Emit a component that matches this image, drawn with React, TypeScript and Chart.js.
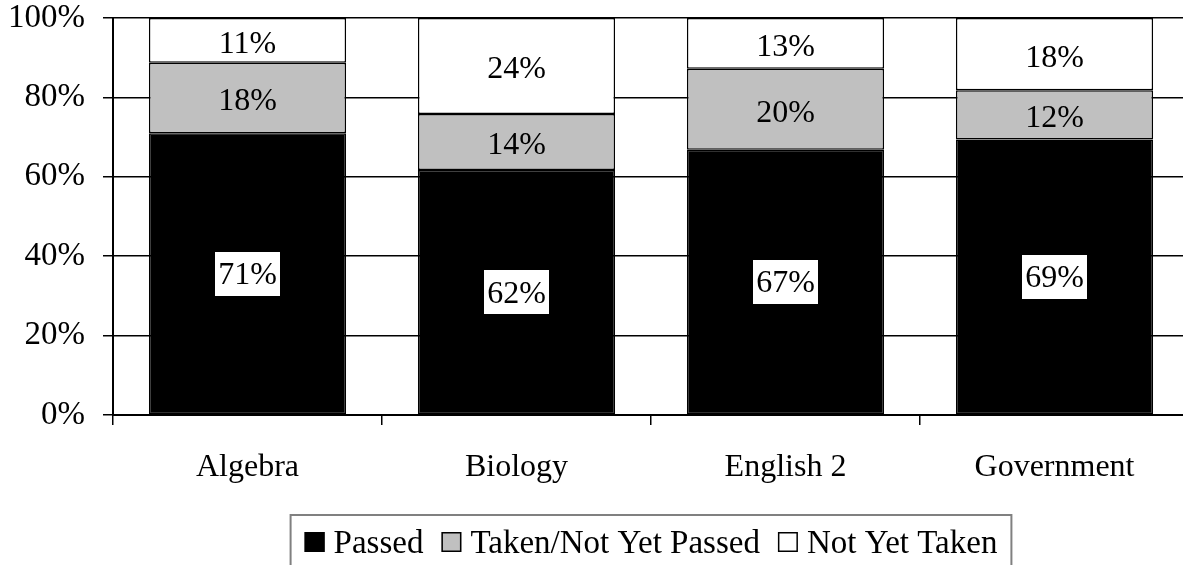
import React, { useEffect, useRef } from "react";
import { Chart, registerables } from "chart.js";

Chart.register(...registerables);

const categories = ["Algebra", "Biology", "English 2", "Government"];
const passed = [71.0, 61.7, 66.8, 69.4];
const takenNotPassed = [17.7, 14.1, 20.4, 12.4];
const notYetTaken = [11.3, 24.2, 12.8, 18.2];
const seriesNames = ["Passed", "Taken/Not Yet Passed", "Not Yet Taken"];
const yTicks = [0, 20, 40, 60, 80, 100];

const FONT = "'Liberation Serif', 'Times New Roman', serif";
const FS = 32;
const YFS = 33;
const LFS = 33;
const W = 1200;
const H = 600;
const XH = 90;

const labelPlugin = {
  id: "segLabels",
  afterDatasetsDraw(chart: any) {
    const ctx = chart.ctx;
    ctx.save();
    ctx.font = `${FS}px ${FONT}`;
    ctx.textAlign = "center";
    ctx.textBaseline = "middle";
    chart.data.datasets.forEach((ds: any, di: number) => {
      const meta = chart.getDatasetMeta(di);
      meta.data.forEach((el: any, i: number) => {
        const v = ds.data[i];
        const txt = Math.round(v) + "%";
        const cx = el.x;
        const cy = (el.y + el.base) / 2;
        if (di === 0) {
          const tw = ctx.measureText(txt).width;
          ctx.fillStyle = "#ffffff";
          ctx.fillRect(Math.round(cx - tw / 2 - 3), Math.round(cy - 22), Math.round(tw + 6), 44);
        }
        ctx.fillStyle = "#000000";
        ctx.fillText(txt, cx, cy + (di === 0 ? 2 : 4));
      });
    });
    ctx.restore();
  },
};

const legendPlugin = {
  id: "boxLegend",
  afterDraw(chart: any) {
    const ctx = chart.ctx;
    const area = chart.chartArea;
    ctx.save();
    ctx.font = `${LFS}px ${FONT}`;
    const sq = 20;
    const gapSq = 9;
    const gapItem = 18;
    const pad = 14;
    const items = chart.data.datasets.map((ds: any) => ({
      text: ds.label,
      fill: ds.backgroundColor,
      w: ctx.measureText(ds.label).width,
    }));
    let total = 0;
    items.forEach((it: any, i: number) => {
      total += sq + gapSq + it.w + (i < items.length - 1 ? gapItem : 0);
    });
    const center = (area.left + area.right) / 2;
    const left = center - total / 2;
    const boxTop = 515;
    ctx.strokeStyle = "#808080";
    ctx.lineWidth = 2;
    ctx.strokeRect(left - pad, boxTop, total + pad * 2, 80);
    let x = left;
    items.forEach((it: any) => {
      ctx.fillStyle = it.fill;
      ctx.fillRect(x, 532, sq, sq);
      ctx.strokeStyle = "#000000";
      ctx.lineWidth = 1.5;
      ctx.strokeRect(x + 0.75, 532.75, sq - 1.5, sq - 1.5);
      x += sq + gapSq;
      ctx.fillStyle = "#000000";
      ctx.textAlign = "left";
      ctx.textBaseline = "alphabetic";
      ctx.fillText(it.text, x, 553);
      x += it.w + gapItem;
    });
    ctx.restore();
  },
};

export default function App() {
  const ref = useRef<HTMLCanvasElement | null>(null);
  useEffect(() => {
    if (!ref.current) return;
    const common = {
      borderColor: "#000000",
      borderWidth: 1.5,
      borderSkipped: false,
      categoryPercentage: 1,
      barPercentage: 0.733,
    };
    const chart = new Chart(ref.current, {
      type: "bar",
      data: {
        labels: categories,
        datasets: [
          { label: seriesNames[0], data: passed, backgroundColor: "#000000", ...common },
          { label: seriesNames[1], data: takenNotPassed, backgroundColor: "#c0c0c0", ...common },
          { label: seriesNames[2], data: notYetTaken, backgroundColor: "#ffffff", ...common },
        ],
      },
      options: {
        animation: false,
        responsive: false,
        maintainAspectRatio: false,
        layout: { padding: { left: 0, right: W - 1189, top: 18, bottom: H - 415 - XH } },
        plugins: {
          legend: { display: false },
          tooltip: { enabled: false },
        },
        scales: {
          x: {
            stacked: true,
            offset: true,
            grid: {
              display: true,
              offset: true,
              drawOnChartArea: false,
              drawTicks: true,
              tickLength: 10,
              color: "#000000",
              lineWidth: 1.5,
            },
            border: { display: true, color: "#000000", width: 2 },
            ticks: {
              color: "#000000",
              font: { family: FONT, size: FS, lineHeight: 1 },
              padding: 27,
              maxRotation: 0,
              autoSkip: false,
            },
            afterFit(scale: any) {
              scale.height = XH;
              scale.paddingLeft = 0;
              scale.paddingRight = 0;
            },
          },
          y: {
            stacked: true,
            min: 0,
            max: 100,
            afterBuildTicks(scale: any) {
              scale.ticks = yTicks.map((v) => ({ value: v }));
            },
            grid: {
              color: "#000000",
              lineWidth: 1.5,
              drawTicks: true,
              tickLength: 10,
            },
            border: { display: true, color: "#000000", width: 2 },
            ticks: {
              color: "#000000",
              font: { family: FONT, size: YFS, lineHeight: 1 },
              padding: 18,
              callback: (v: any) => v + "%",
            },
            afterFit(scale: any) {
              scale.width = 113;
              scale.paddingTop = 0;
              scale.paddingBottom = 0;
            },
          },
        },
      },
      plugins: [labelPlugin, legendPlugin],
    });
    return () => chart.destroy();
  }, []);
  return (
    <div
      style={{
        position: "fixed",
        left: 0,
        top: 0,
        width: 1183,
        height: 565,
        overflow: "hidden",
        background: "#ffffff",
      }}
    >
      <canvas ref={ref} width={W} height={H} style={{ display: "block", width: W, height: H }} />
    </div>
  );
}
